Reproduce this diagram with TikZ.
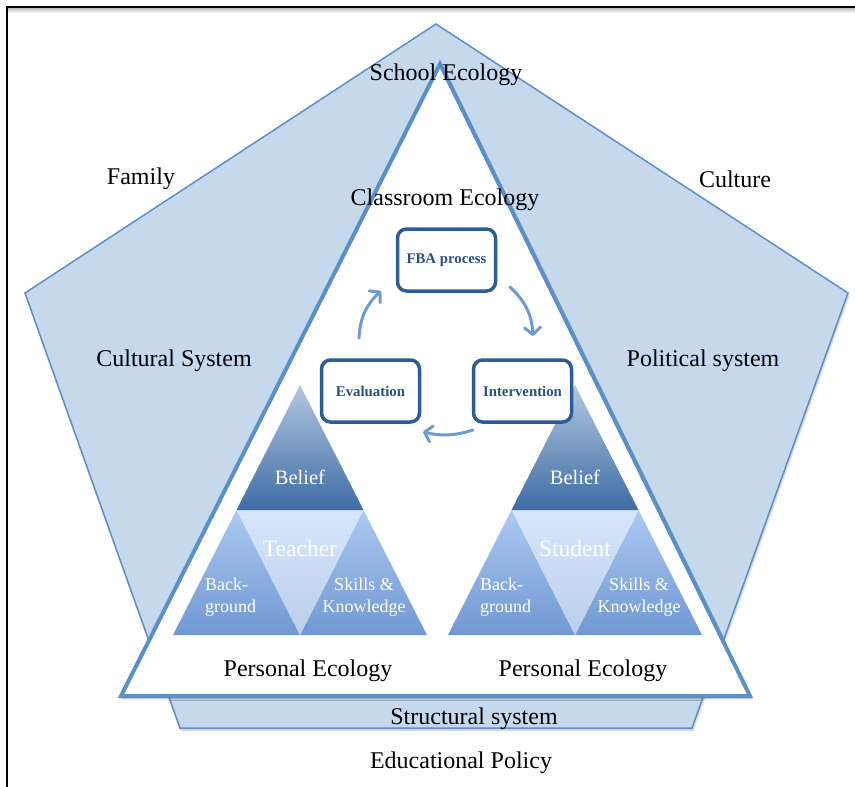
\documentclass[tikz,border=0pt]{standalone}
\usepackage{fontspec}
\setmainfont{Liberation Serif}
\usetikzlibrary{arrows.meta,shadows.blur}
\definecolor{penfill}{HTML}{C6D9EC}
\definecolor{penline}{HTML}{5B8FC8}
\definecolor{boxline}{HTML}{2C5D96}
\definecolor{boxtext}{HTML}{2B4F80}
\definecolor{arrowc}{HTML}{6B9BD2}
\definecolor{belTop}{HTML}{B4C7E1}
\definecolor{belBot}{HTML}{3D6CA4}
\definecolor{sideTop}{HTML}{ABC9F2}
\definecolor{sideBot}{HTML}{7198D2}
\definecolor{midTop}{HTML}{D7E6FB}
\definecolor{midBot}{HTML}{BACEEA}
\newcommand\lblfont{\fontsize{24}{28}\selectfont}
\newcommand\smallfont{\fontsize{18}{21.5}\selectfont}
\newcommand\ecotri[3]{%
  \begin{scope}[shift={(#1,0)}]
    \coordinate (#2A) at (300,385);
    \coordinate (#2ML) at (236.5,510);
    \coordinate (#2MR) at (363.5,510);
    \coordinate (#2BL) at (173,635);
    \coordinate (#2BM) at (300,635);
    \coordinate (#2BR) at (427,635);
    \shade[top color=sideTop, bottom color=sideBot] (#2ML) -- (#2BM) -- (#2BL) -- cycle;
    \shade[top color=sideTop, bottom color=sideBot] (#2MR) -- (#2BR) -- (#2BM) -- cycle;
    \shade[top color=midTop, bottom color=midBot] (#2ML) -- (#2MR) -- (#2BM) -- cycle;
    \shade[top color=belTop, bottom color=belBot] (#2A) -- (#2MR) -- (#2ML) -- cycle;
    \node[tri, font=\fontsize{20.5}{24}\selectfont] (#2belief) at (300,477) {Belief};
    \node[tri, font=\fontsize{23.5}{28}\selectfont] (#2who) at (300,548) {#3};
    \node[tri, anchor=west, align=left, font=\smallfont] (#2back) at (205,597) {Back-\\ground};
    \node[tri, align=center, font=\smallfont] (#2skill) at (364,597) {Skills \&\\Knowledge};
  \end{scope}}
\begin{document}
\begin{tikzpicture}[x=1pt,y=-1pt,
  lbl/.style={inner sep=0pt, font=\lblfont},
  tri/.style={inner sep=0pt, text=white},
  fbabox/.style={draw=boxline, line width=3.5pt, rounded corners=9pt, fill=white,
    minimum width=98pt, minimum height=62pt, inner sep=0pt, text=boxtext,
    font=\fontsize{14.8}{17}\selectfont\bfseries},
  cyc/.style={draw=arrowc, line width=3pt, line cap=round,
    -{Straight Barb[length=7pt,width=16pt,round]}}]
\useasboundingbox (0,0) rectangle (855,787);
% frame
\shade[top color=black!30, bottom color=white] (7,7) rectangle (855,13);
\draw[line width=1.3pt] (7,787) -- (7,7) -- (855,7);
% pentagon
\draw[draw=penline, line width=1.5pt, fill=penfill, line join=miter,
  blur shadow={shadow xshift=1pt, shadow yshift=-2pt, shadow blur steps=6, shadow opacity=25}]
  (436,24) -- (848,293) -- (692,728) -- (180,728) -- (25,293) -- cycle;
% triangle
\draw[draw=penline, line width=4pt, fill=white, line join=miter,
  blur shadow={shadow xshift=1.5pt, shadow yshift=-2.5pt, shadow blur steps=6, shadow opacity=30}]
  (440,64) -- (750,696) -- (121,696) -- cycle;
% outer labels
\node[lbl] (school) at (446,75) {School Ecology};
\node[lbl] (family) at (141,179) {Family};
\node[lbl] (culture) at (735,179) {Culture};
\node[lbl] (classroom) at (445,200) {Classroom Ecology};
\node[lbl] (cultsys) at (174,361) {Cultural System};
\node[lbl] (polsys) at (703,361) {Political system};
\node[lbl] (pers1) at (308,671) {Personal Ecology};
\node[lbl] (pers2) at (583,671) {Personal Ecology};
\node[lbl] (struct) at (474,719) {Structural system};
\node[lbl] (edu) at (461,763) {Educational Policy};
% personal triangles
\ecotri{0}{t}{Teacher}
\ecotri{275}{s}{Student}
% FBA cycle
\node[fbabox] (fba) at (446.5,260) {FBA process};
\node[fbabox] (eval) at (370.5,391) {Evaluation};
\node[fbabox] (interv) at (522.5,391) {Intervention};
\coordinate (a1s) at (510,287);
\coordinate (a1e) at (533,336);
\coordinate (a2s) at (473,430);
\coordinate (a2e) at (423,432);
\coordinate (a3s) at (359,338);
\coordinate (a3e) at (381,291);
\draw[cyc] (a1s) to[bend left=22] (a1e);
\draw[cyc] (a2s) to[bend left=15] (a2e);
\draw[cyc] (a3s) to[bend left=22] (a3e);
\end{tikzpicture}
\end{document}
